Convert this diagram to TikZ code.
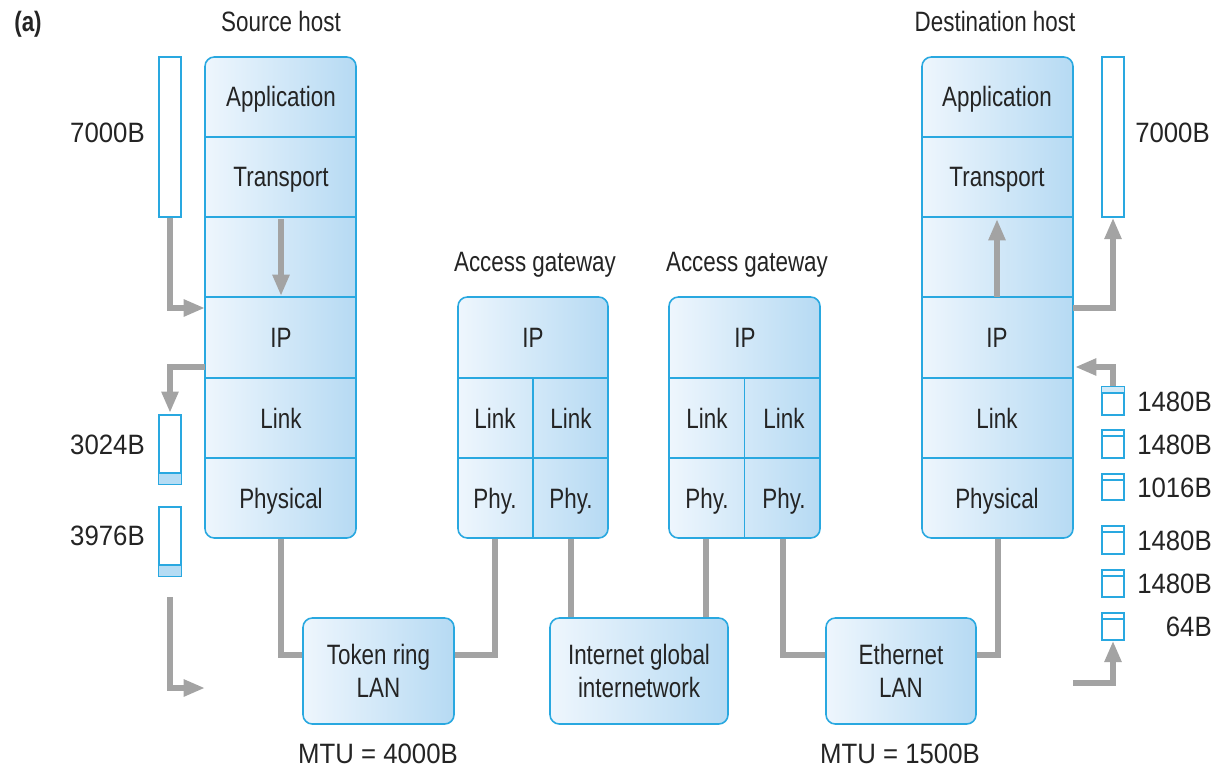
\documentclass[tikz,border=0pt]{standalone}
\usepackage{fontspec}
\setmainfont{Liberation Sans}[FakeStretch=0.8]
\newfontfamily\sizefont{Liberation Sans}[FakeStretch=0.92]
\usetikzlibrary{arrows.meta,fit,calc,backgrounds}
\definecolor{edge}{HTML}{29A8E0}
\definecolor{shadeL}{HTML}{EEF6FD}
\definecolor{shadeR}{HTML}{B6DAF3}
\definecolor{flow}{HTML}{A3A3A3}
\definecolor{hdr}{HTML}{B5DCF4}
\definecolor{ink}{HTML}{242424}

\begin{document}
\begin{tikzpicture}[x=0.75pt,y=-0.75pt,
  every node/.style={font=\fontsize{21}{25}\selectfont, text=ink},
  lbl/.style={text height=15pt, text depth=0pt, inner sep=0pt},
  size/.style={lbl, font=\fontsize{21}{25}\selectfont\sizefont},
  stack/.style={draw=edge, line width=1.2pt, rounded corners=7pt,
    left color=shadeL, right color=shadeR, inner sep=0pt},
  layer/.style={draw=edge, line width=1.2pt},
  pkt/.style={draw=edge, line width=1.1pt, fill=white, inner sep=0pt},
  pipe/.style={draw=flow, line width=4.5pt},
  flowarrow/.style={draw=flow, line width=4.5pt,
    -{Triangle[length=16pt,width=12pt]}},
]
\useasboundingbox (0,0) rectangle (1228,770);

% ---------- title and headings ----------
\node[lbl, font=\fontsize{21}{25}\selectfont\bfseries] (tag) at (28,22) {(a)};
\node[lbl] (srcHead) at (281,22) {Source host};
\node[lbl] (dstHead) at (995,22) {Destination host};
\node[lbl] (gwAHead) at (535,262) {Access gateway};
\node[lbl] (gwBHead) at (747,262) {Access gateway};

% ---------- source host stack ----------
\node[stack, fit={(205,57) (356,538)}] (src) {};
\foreach \y in {137,217,297,378,458}
  \draw[layer] (src.west |- 0,\y) -- (src.east |- 0,\y);
\node[lbl] (srcApp) at (281,97) {Application};
\node[lbl] (srcTr)  at (281,177) {Transport};
\node[lbl] (srcIP)  at (281,337) {IP};
\node[lbl] (srcLk)  at (281,418) {Link};
\node[lbl] (srcPh)  at (281,498) {Physical};

% ---------- destination host stack ----------
\node[stack, fit={(922,57) (1073,538)}] (dst) {};
\foreach \y in {137,217,297,378,458}
  \draw[layer] (dst.west |- 0,\y) -- (dst.east |- 0,\y);
\node[lbl] (dstApp) at (997,97) {Application};
\node[lbl] (dstTr)  at (997,177) {Transport};
\node[lbl] (dstIP)  at (997,337) {IP};
\node[lbl] (dstLk)  at (997,418) {Link};
\node[lbl] (dstPh)  at (997,498) {Physical};

% ---------- access gateways ----------
\node[stack, fit={(458,297) (608,538)}] (gwA) {};
\draw[layer] (gwA.west |- 0,378) -- (gwA.east |- 0,378);
\draw[layer] (gwA.west |- 0,458) -- (gwA.east |- 0,458);
\draw[layer] (gwA.center |- 0,378) -- (gwA.south);
\node[lbl] (gwAIP) at (533,337) {IP};
\node[lbl] (gwALk1) at (495,418) {Link};
\node[lbl] (gwALk2) at (571,418) {Link};
\node[lbl] (gwAPh1) at (495,498) {Phy.};
\node[lbl] (gwAPh2) at (571,498) {Phy.};

\node[stack, fit={(669,297) (820,538)}] (gwB) {};
\draw[layer] (gwB.west |- 0,378) -- (gwB.east |- 0,378);
\draw[layer] (gwB.west |- 0,458) -- (gwB.east |- 0,458);
\draw[layer] (gwB.center |- 0,378) -- (gwB.south);
\node[lbl] (gwBIP) at (745,337) {IP};
\node[lbl] (gwBLk1) at (707,418) {Link};
\node[lbl] (gwBLk2) at (784,418) {Link};
\node[lbl] (gwBPh1) at (707,498) {Phy.};
\node[lbl] (gwBPh2) at (784,498) {Phy.};

% ---------- networks ----------
\node[stack, fit={(303,618) (454,724)}] (tok) {};
\node[align=center, inner sep=0pt] (tokText) at (tok.center) {Token ring\\LAN};
\node[stack, fit={(550,618) (728,724)}] (inet) {};
\node[align=center, inner sep=0pt] (inetText) at (inet.center) {Internet global\\internetwork};
\node[stack, fit={(826,618) (976,724)}] (eth) {};
\node[align=center, inner sep=0pt] (ethText) at (eth.center) {Ethernet\\LAN};
\node[size] (mtuA) at (378,753) {MTU = 4000B};
\node[size] (mtuB) at (900,753) {MTU = 1500B};

% ---------- physical links ----------
\coordinate (gwAl) at ($(gwA.south west)!0.25!(gwA.south east)$);
\coordinate (gwAr) at ($(gwA.south west)!0.75!(gwA.south east)$);
\coordinate (gwBl) at ($(gwB.south west)!0.25!(gwB.south east)$);
\coordinate (gwBr) at ($(gwB.south west)!0.75!(gwB.south east)$);
\begin{pgfonlayer}{background}
  \draw[pipe] (src.south) |- ([yshift=12pt]tok.west);
  \draw[pipe] ([yshift=12pt]tok.east) -| (gwAl);
  \draw[pipe] (gwAr) -- (gwAr |- inet.north);
  \draw[pipe] (gwBl) -- (gwBl |- inet.north);
  \draw[pipe] (gwBr) |- ([yshift=12pt]eth.west);
  \draw[pipe] ([yshift=12pt]eth.east) -| (dst.south);
\end{pgfonlayer}

% ---------- source side datagrams ----------
\node[pkt, fit={(159,57) (181,217)}] (pL) {};
\node[size, anchor=east] (pLlbl) at (145,133) {7000B};
\node[pkt, fit={(159,415) (181,484)}] (pA) {};
\draw[pkt, fill=hdr] (pA.west |- 0,473) rectangle (pA.south east);
\node[size, anchor=east] (pAlbl) at (145,444) {3024B};
\node[pkt, fit={(159,507) (181,576)}] (pB) {};
\draw[pkt, fill=hdr] (pB.west |- 0,565) rectangle (pB.south east);
\node[size, anchor=east] (pBlbl) at (145,535) {3976B};

\coordinate (srcIn) at (205,308);
\coordinate (srcOut) at (205,367);
\coordinate (lanIn0) at (170,597);
\coordinate (lanIn1) at (205,688);
\coordinate (srcDown0) at (281,219);
\coordinate (srcDown1) at (281,296);
\draw[flowarrow] (pL.south) |- (srcIn);
\draw[flowarrow, shorten >=1pt] (srcOut) -| (pA.north);
\draw[flowarrow] (lanIn0) |- (lanIn1);
\draw[flowarrow] (srcDown0) -- (srcDown1);

% ---------- destination side datagrams ----------
\node[pkt, fit={(1102,57) (1124,217)}] (pR) {};
\node[size, anchor=west] (pRlbl) at (1135,133) {7000B};
\foreach \n/\t/\b/\txt in {1/387/415/1480B, 2/430/458/1480B, 3/474/500/1016B,
                          4/526/554/1480B, 5/570/597/1480B, 6/613/640/64B}{
  \node[pkt, fit={(1102,\t) (1124,\b)}] (q\n) {};
  \draw[layer, line width=1.1pt] (q\n.west |- 0,\t+6) -- (q\n.east |- 0,\t+6);
  \node[size, anchor=east] (q\n lbl) at (1212,{(\t+\b)/2}) {\txt};
}
\fill[hdr!60] ([xshift=0.6pt,yshift=-0.6pt]q1.north west) rectangle ([xshift=-0.6pt]q1.east |- 0,392);

\coordinate (dstOut) at (1073,308);
\coordinate (dstIn) at (1075,367);
\coordinate (lanOut) at (1073,683);
\coordinate (dstUp0) at (997,297);
\coordinate (dstUp1) at (997,219);
\draw[flowarrow] (dstOut) -| (pR.south);
\draw[flowarrow] (q1.north) |- (dstIn);
\draw[flowarrow] (lanOut) -| (q6.south);
\draw[flowarrow] (dstUp0) -- (dstUp1);
\end{tikzpicture}
\end{document}
